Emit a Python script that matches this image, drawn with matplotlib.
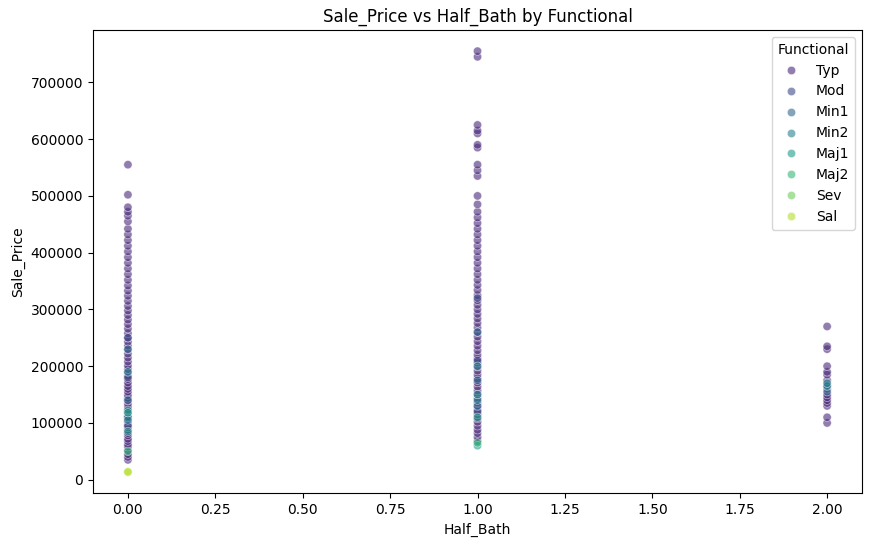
import matplotlib
matplotlib.use("Agg")
import matplotlib.pyplot as plt
import seaborn as sns
import pandas as pd

functional_order = ['Typ', 'Mod', 'Min1', 'Min2', 'Maj1', 'Maj2', 'Sev', 'Sal']

# Typ sale prices per half-bath count
typ_hb0 = [35000, 40000, 45000, 52000, 58000, 62000, 68000, 72000, 78000, 82000, 88000,
           92000, 97000, 102000, 108000, 112000, 118000, 124000, 129000, 134000, 139000,
           144000, 149000, 155000, 160000, 165000, 171000, 177000, 183000, 189000, 195000,
           201000, 208000, 215000, 222000, 229000, 236000, 243000, 250000, 258000, 266000,
           274000, 282000, 290000, 298000, 306000, 315000, 324000, 333000, 342000, 352000,
           362000, 372000, 382000, 392000, 402000, 412000, 422000, 432000, 442000, 455000,
           465000, 472000, 480000, 502000, 555000]
typ_hb1 = [68000, 75000, 82000, 88000, 95000, 102000, 108000, 115000, 122000, 129000,
           136000, 143000, 150000, 157000, 164000, 171000, 178000, 185000, 192000, 199000,
           206000, 213000, 220000, 228000, 236000, 244000, 252000, 260000, 268000, 276000,
           284000, 292000, 300000, 308000, 316000, 325000, 334000, 343000, 352000, 362000,
           372000, 382000, 392000, 402000, 412000, 422000, 432000, 442000, 452000, 462000,
           472000, 485000, 500000, 535000, 545000, 555000, 585000, 590000, 610000, 615000,
           625000, 745000, 755000]
typ_hb2 = [100000, 110000, 130000, 135000, 140000, 145000, 150000, 160000, 165000, 175000,
           185000, 190000, 200000, 230000, 235000, 270000]

mod_hb0 = [95000, 180000, 250000]
mod_hb1 = [120000, 210000, 320000]
min1_hb0 = [110000, 140000, 230000]
min1_hb1 = [130000, 175000, 260000]
min1_hb2 = [155000]
min2_hb0 = [105000, 122000, 190000]
min2_hb1 = [140000, 150000, 200000]
min2_hb2 = [165000, 170000]
maj1_hb0 = [85000, 118000]
maj1_hb1 = [60000, 110000]
maj2_hb0 = [50000]
maj2_hb1 = [65000]
sal_hb0 = [13000, 14000]

rows = []
for func, groups in [('Typ', [typ_hb0, typ_hb1, typ_hb2]),
                     ('Mod', [mod_hb0, mod_hb1, []]),
                     ('Min1', [min1_hb0, min1_hb1, min1_hb2]),
                     ('Min2', [min2_hb0, min2_hb1, min2_hb2]),
                     ('Maj1', [maj1_hb0, maj1_hb1, []]),
                     ('Maj2', [maj2_hb0, maj2_hb1, []]),
                     ('Sal', [sal_hb0, [], []])]:
    for hb, prices in enumerate(groups):
        for p in prices:
            rows.append({'Half_Bath': hb, 'Sale_Price': p, 'Functional': func})
df = pd.DataFrame(rows)

fig, ax = plt.subplots(figsize=(8.77, 5.47))
fig.subplots_adjust(left=0.106, right=0.983, top=0.945, bottom=0.098)
sns.scatterplot(data=df, x='Half_Bath', y='Sale_Price', hue='Functional',
                hue_order=functional_order, palette='viridis', alpha=0.6, ax=ax)
ax.set_title('Sale_Price vs Half_Bath by Functional')
ax.legend(title='Functional', loc='upper right')
fig.savefig('out.png', dpi=100)
